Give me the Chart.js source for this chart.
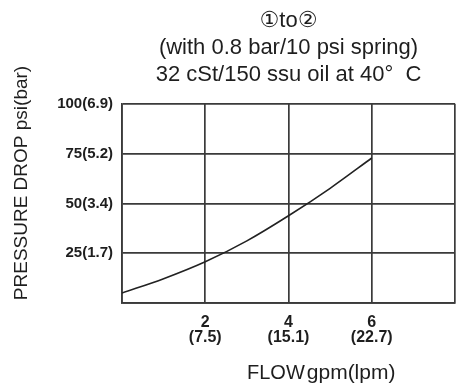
<!DOCTYPE html>
<html>
<head>
<meta charset="utf-8">
<script src="https://cdn.jsdelivr.net/npm/chart.js@4.4.0/dist/chart.umd.min.js"></script>
<style>
  html, body { margin: 0; padding: 0; background: #fff; }
  #wrap { width: 457px; height: 385px; }
</style>
</head>
<body>
<div id="wrap"><canvas id="chart" width="457" height="385"></canvas></div>
<script>
// data
const flowGpm = [0, 1, 2, 3, 4, 5, 6];
const pressurePsi = [5, 12.2, 20.7, 31.2, 43.8, 57.6, 72.8];

// tick labels
const flowTicks = [2, 4, 6];
const flowTickLabels = [['2', '(7.5)'], ['4', '(15.1)'], ['6', '(22.7)']];
const pressureTicks = [25, 50, 75, 100];
const pressureTickLabels = ['25(1.7)', '50(3.4)', '75(5.2)', '100(6.9)'];

const titleLines = ['\u2460to\u2461', '(with 0.8 bar/10 psi spring)', '32 cSt/150 ssu oil at 40\u00b0  C'];
const xTitle = ['FLOW', 'gpm(lpm)'];
const yTitle = 'PRESSURE DROP psi(bar)';

const FONT = "'Liberation Sans', Arial, Helvetica, 'DejaVu Sans', sans-serif";
const INK = '#1e1e1e';
const GRID = '#3a3a3a';

// axis titles drawn straight onto the canvas (they sit off-centre in the original)
const axisTitles = {
    id: 'axisTitles',
    afterDraw(chart) {
        const ctx = chart.ctx;
        ctx.save();
        ctx.fillStyle = INK;
        ctx.textBaseline = 'alphabetic';
        ctx.textAlign = 'left';

        // x title
        ctx.font = '20px ' + FONT;
        ctx.fillText(xTitle[0], 247, 379);
        const w = ctx.measureText(xTitle[0]).width;
        ctx.font = '21px ' + FONT;
        ctx.fillText(xTitle[1], 247 + w + 2, 379);

        // y title, rotated
        ctx.font = '19px ' + FONT;
        const tw = ctx.measureText(yTitle).width;
        ctx.translate(26.5, 183 + tw / 2);
        ctx.rotate(-Math.PI / 2);
        ctx.fillText(yTitle, 0, 0);
        ctx.restore();
    }
};

new Chart(document.getElementById('chart'), {
    type: 'line',
    data: {
        datasets: [{
            data: flowGpm.map((x, i) => ({ x: x, y: pressurePsi[i] })),
            borderColor: '#222',
            borderWidth: 1.6,
            pointRadius: 0,
            fill: false,
            cubicInterpolationMode: 'monotone'
        }]
    },
    options: {
        responsive: false,
        animation: false,
        layout: { padding: { left: 0, right: 2, top: 0, bottom: 0 } },
        plugins: {
            legend: { display: false },
            tooltip: { enabled: false },
            title: {
                display: true,
                text: titleLines,
                fullSize: false,
                color: INK,
                font: { family: FONT, size: 22, weight: 'normal', lineHeight: 1.24 },
                padding: { top: 7, bottom: 15 }
            }
        },
        scales: {
            x: {
                type: 'linear',
                min: 0,
                max: 8,
                afterFit: s => {
                    s.height = 82;
                    s.paddingLeft = 0;
                    s.paddingRight = 0;
                },
                afterBuildTicks: s => {
                    s.ticks = [0, ...flowTicks, 8].map(v => ({ value: v }));
                },
                ticks: {
                    color: INK,
                    padding: 12,
                    maxRotation: 0,
                    font: { family: FONT, size: 16, weight: 'bold', lineHeight: 15 / 16 },
                    callback: v => {
                        const i = flowTicks.indexOf(v);
                        return i < 0 ? '' : flowTickLabels[i];
                    }
                },
                grid: { color: GRID, lineWidth: 1.7, drawTicks: false },
                border: { display: true, color: GRID, width: 1.7 }
            },
            y: {
                type: 'linear',
                min: 0,
                max: 100,
                afterFit: s => { s.width = 122; },
                afterBuildTicks: s => {
                    s.ticks = [0, ...pressureTicks].map(v => ({ value: v }));
                },
                ticks: {
                    color: INK,
                    padding: 9,
                    font: { family: FONT, size: 15, weight: 'bold' },
                    callback: v => {
                        const i = pressureTicks.indexOf(v);
                        return i < 0 ? '' : pressureTickLabels[i];
                    }
                },
                grid: { color: GRID, lineWidth: 1.7, drawTicks: false },
                border: { display: true, color: GRID, width: 1.7 }
            }
        }
    },
    plugins: [axisTitles]
});
</script>
</body>
</html>
